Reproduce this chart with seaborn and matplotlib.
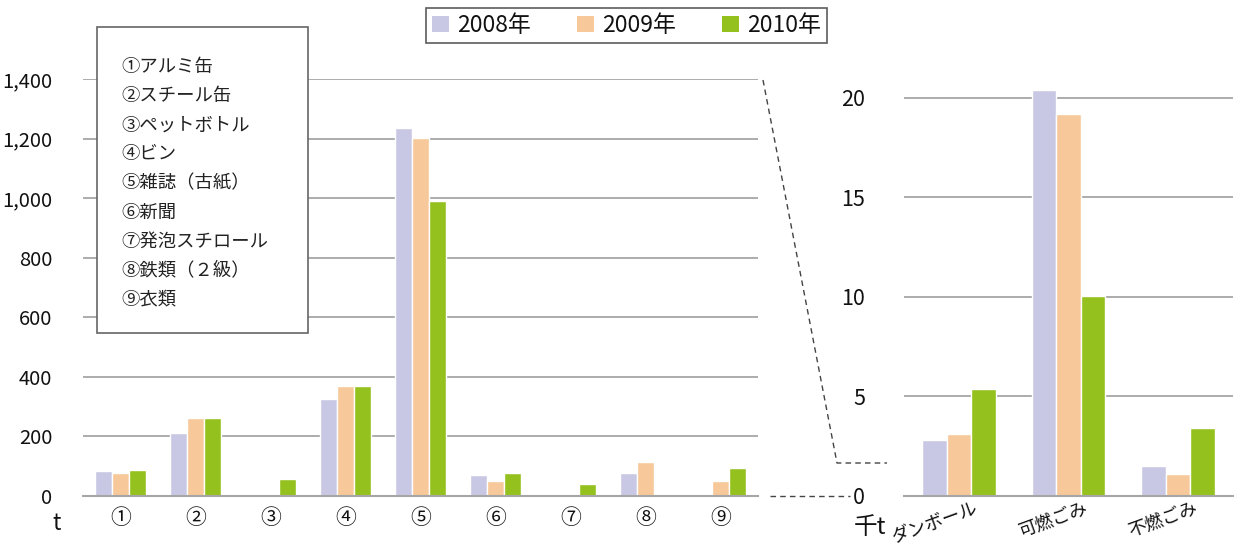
import matplotlib
matplotlib.use("Agg")
import matplotlib.pyplot as plt
import seaborn as sns
import pandas as pd
from matplotlib.lines import Line2D
from matplotlib.patches import Rectangle, Patch
from matplotlib.transforms import ScaledTranslation
from matplotlib.ticker import FuncFormatter

# ---------------- data ----------------
years = ['2008年', '2009年', '2010年']
colors = ['#C8C8E4', '#F7C899', '#95C11F']

left_cats = ['①', '②', '③', '④', '⑤', '⑥', '⑦', '⑧', '⑨']
left_2008 = [84, 211, 0, 326, 1235, 70, 0, 77, 0]
left_2009 = [77, 262, 0, 369, 1202, 50, 0, 114, 50]
left_2010 = [87, 262, 57, 369, 990, 77, 40, 0, 94]
left_ticks = [0, 200, 400, 600, 800, 1000, 1200, 1400]

right_cats = ['ダンボール', '可燃ごみ', '不燃ごみ']
right_2008 = [2.8, 20.4, 1.5]
right_2009 = [3.1, 19.2, 1.1]
right_2010 = [5.4, 10.05, 3.4]
right_ticks = [0, 5, 10, 15, 20]

item_labels = ['①アルミ缶', '②スチール缶', '③ペットボトル', '④ビン', '⑤雑誌（古紙）',
               '⑥新聞', '⑦発泡スチロール', '⑧鉄類（２級）', '⑨衣類']

# ---------------- style ----------------
sns.set_theme(style="white")
plt.rcParams['font.family'] = ['Noto Sans CJK JP', 'DejaVu Sans']

W, H = 1234, 546
fig = plt.figure(figsize=(W / 100, H / 100), dpi=100)


def px(x0, y0, x1, y1):
    return [x0 / W, 1 - y1 / H, (x1 - x0) / W, (y1 - y0) / H]


def long_df(cats, s1, s2, s3):
    rows = []
    for y, vals in zip(years, [s1, s2, s3]):
        for c, v in zip(cats, vals):
            rows.append({'cat': c, 'year': y, 'value': v})
    return pd.DataFrame(rows)


grid_col = '#A6A6A6'
txt_col = '#111111'


def style_axis(ax, ncat, ticks, ymax, fmt):
    ax.set_ylim(0, ymax)
    ax.set_xlim(-0.5, ncat - 0.5)
    ax.set_yticks(ticks)
    ax.yaxis.set_major_formatter(fmt)
    ax.grid(axis='y', color=grid_col, linewidth=1.3)
    ax.set_axisbelow(True)
    for s in ['left', 'right', 'top']:
        ax.spines[s].set_visible(False)
    ax.spines['bottom'].set_color(grid_col)
    ax.spines['bottom'].set_linewidth(1.5)
    ax.spines['bottom'].set_zorder(5)
    ax.set_xlabel('')
    ax.set_ylabel('')
    ax.tick_params(axis='y', length=0, labelsize=14.5, labelcolor=txt_col)
    ax.tick_params(axis='x', which='major', length=0, labelcolor=txt_col)
    ax.set_xticks([i - 0.5 for i in range(ncat + 1)], minor=True)
    ax.tick_params(axis='x', which='minor', length=5, width=1.2, color=grid_col, direction='out')


# ---------------- left chart ----------------
axL = fig.add_axes(px(83, 79, 758, 496))
sns.barplot(data=long_df(left_cats, left_2008, left_2009, left_2010), x='cat', y='value',
            hue='year', hue_order=years, palette=colors, width=0.67, saturation=1,
            legend=False, ax=axL)
style_axis(axL, len(left_cats), left_ticks, 1400, FuncFormatter(lambda v, p: f'{int(v):,}'))
axL.tick_params(axis='y', pad=22)
axL.tick_params(axis='x', labelsize=15, pad=8)

# ---------------- right chart ----------------
axR = fig.add_axes(px(904, 80, 1233, 496))
sns.barplot(data=long_df(right_cats, right_2008, right_2009, right_2010), x='cat', y='value',
            hue='year', hue_order=years, palette=colors, width=0.67, saturation=1,
            legend=False, ax=axR)
style_axis(axR, len(right_cats), right_ticks, 20.9, FuncFormatter(lambda v, p: f'{int(v)}'))
axR.tick_params(axis='y', pad=28, labelsize=15.5)
axR.tick_params(axis='x', labelsize=13, pad=2)
for lab in axR.get_xticklabels():
    lab.set_rotation(20)
    lab.set_ha('right')
    lab.set_transform(lab.get_transform() + ScaledTranslation(0.22, 0, fig.dpi_scale_trans))

# unit labels
fig.text(57 / W, 1 - 523 / H, 't', fontsize=16, ha='center', va='center', color=txt_col)
fig.text(870 / W, 1 - 527 / H, '千t', fontsize=17, ha='center', va='center', color=txt_col)

# dashed connector lines
dash = dict(color='#444444', linewidth=1.0, linestyle=(0, (4, 3)))
fig.add_artist(Line2D([763 / W, 837 / W, 887 / W],
                      [1 - 80 / H, 1 - 463 / H, 1 - 463 / H], **dash))
fig.add_artist(Line2D([770 / W, 850 / W], [1 - 496 / H, 1 - 496 / H], **dash))

# item box
fig.add_artist(Rectangle((97 / W, 1 - 333 / H), (308 - 97) / W, (333 - 27) / H,
                         transform=fig.transFigure, facecolor='white',
                         edgecolor='#666666', linewidth=1.2, zorder=10))
for i, t in enumerate(item_labels):
    fig.text(121 / W, 1 - (67 + i * 29.1) / H, t, fontsize=13.2, ha='left', va='center',
             color='#222222', zorder=11)

# year legend
handles = [Patch(facecolor=c, edgecolor='none', label=y) for c, y in zip(colors, years)]
leg = fig.legend(handles=handles, loc='center', bbox_to_anchor=(626.5 / W, 1 - 25.5 / H),
                 ncol=3, fontsize=16.5, frameon=True, fancybox=False, handlelength=0.75,
                 handleheight=0.75, handletextpad=0.35, columnspacing=2.0,
                 borderpad=0.25, borderaxespad=0, edgecolor='#333333')
leg.get_frame().set_linewidth(1.2)
for t in leg.get_texts():
    t.set_color(txt_col)

fig.savefig('out.png', dpi=100)
